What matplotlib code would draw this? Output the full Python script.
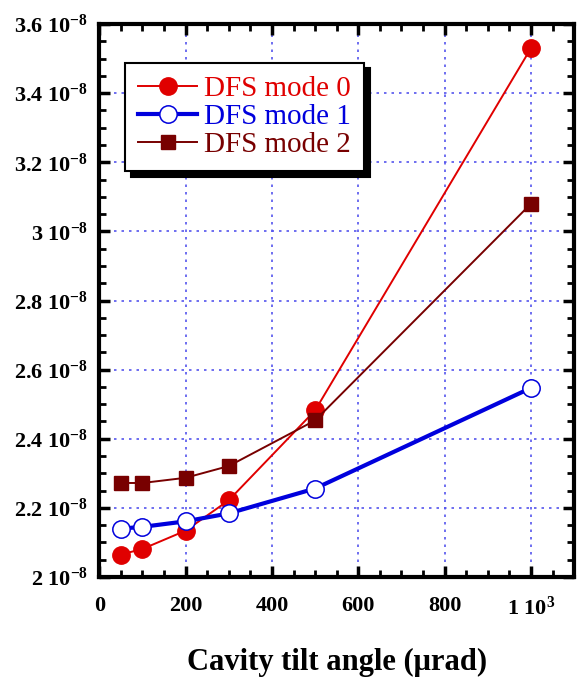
import matplotlib
matplotlib.use("Agg")
import matplotlib.pyplot as plt
from matplotlib.ticker import MultipleLocator, FuncFormatter

plt.rcParams['font.family'] = ['Liberation Serif', 'DejaVu Serif']
plt.rcParams['mathtext.default'] = 'regular'

tilt = [50, 100, 200, 300, 500, 1000]
mode0 = [2.065e-8, 2.081e-8, 2.134e-8, 2.222e-8, 2.482e-8, 3.530e-8]
mode1 = [2.140e-8, 2.145e-8, 2.161e-8, 2.184e-8, 2.256e-8, 2.547e-8]
mode2 = [2.272e-8, 2.272e-8, 2.287e-8, 2.321e-8, 2.453e-8, 3.080e-8]
labels = ['DFS mode 0', 'DFS mode 1', 'DFS mode 2']

fig = plt.figure(figsize=(5.77, 6.78), dpi=100)
ax = fig.add_axes([0.172, 0.149, 0.823, 0.8155])

red = '#e00000'
blue = '#0000dd'
brown = '#780000'

ax.plot(tilt, mode0, color=red, lw=1.4, marker='o', ms=12.5, mfc=red, mec=red, label=labels[0], zorder=3)
ax.plot(tilt, mode1, color=blue, lw=3, marker='o', ms=12.5, mfc='white', mec=blue, mew=1.1, label=labels[1], zorder=3)
ax.plot(tilt, mode2, color=brown, lw=1.4, marker='s', ms=10, mfc=brown, mec=brown, label=labels[2], zorder=3)

ax.set_xlim(0, 1100)
ax.set_ylim(2.0e-8, 3.6e-8)
ax.xaxis.set_major_locator(MultipleLocator(200))
ax.xaxis.set_minor_locator(MultipleLocator(50))
ax.yaxis.set_major_locator(MultipleLocator(0.2e-8))
ax.yaxis.set_minor_locator(MultipleLocator(0.05e-8))

def yfmt(v, pos):
    m = v / 1e-8
    s = ('%.1f' % m)
    if s.endswith('.0'):
        s = s[:-2]
    return s + ' 10$^{-8}$'

def xfmt(v, pos):
    if abs(v - 1000) < 1e-6:
        return '1 10$^{3}$'
    return '%d' % v

ax.yaxis.set_major_formatter(FuncFormatter(yfmt))
ax.xaxis.set_major_formatter(FuncFormatter(xfmt))

ax.grid(True, which='major', color='#5555ee', linestyle=(0, (1.5, 3)), lw=1.2)
ax.tick_params(which='major', direction='in', length=8, width=2.5, top=True, right=True, labelsize=16)
ax.tick_params(axis='y', which='major', pad=8)
ax.tick_params(axis='x', which='major', pad=14)
ax.tick_params(which='minor', direction='in', length=5, width=2, top=True, right=True)
for lab in ax.get_xticklabels() + ax.get_yticklabels():
    lab.set_fontweight('bold')
for sp in ax.spines.values():
    sp.set_linewidth(3)

ax.set_xlabel('Cavity tilt angle (\u03bcrad)', fontsize=22, fontweight='bold')
ax.xaxis.set_label_coords(0.5, -0.155)
ax.xaxis.label.set_va('center')

leg = ax.legend(loc='upper left', bbox_to_anchor=(0.055, 0.93), fontsize=21, frameon=True, fancybox=False,
                shadow={'color': 'black', 'alpha': 1.0, 'ox': 4, 'oy': -4}, edgecolor='black', borderpad=0.45,
                labelspacing=0.05, handlelength=2.0, handletextpad=0.25, borderaxespad=0)
leg.get_frame().set_linewidth(1.5)
for t, c in zip(leg.get_texts(), [red, blue, brown]):
    t.set_color(c)

fig.savefig('out.png', dpi=100)
